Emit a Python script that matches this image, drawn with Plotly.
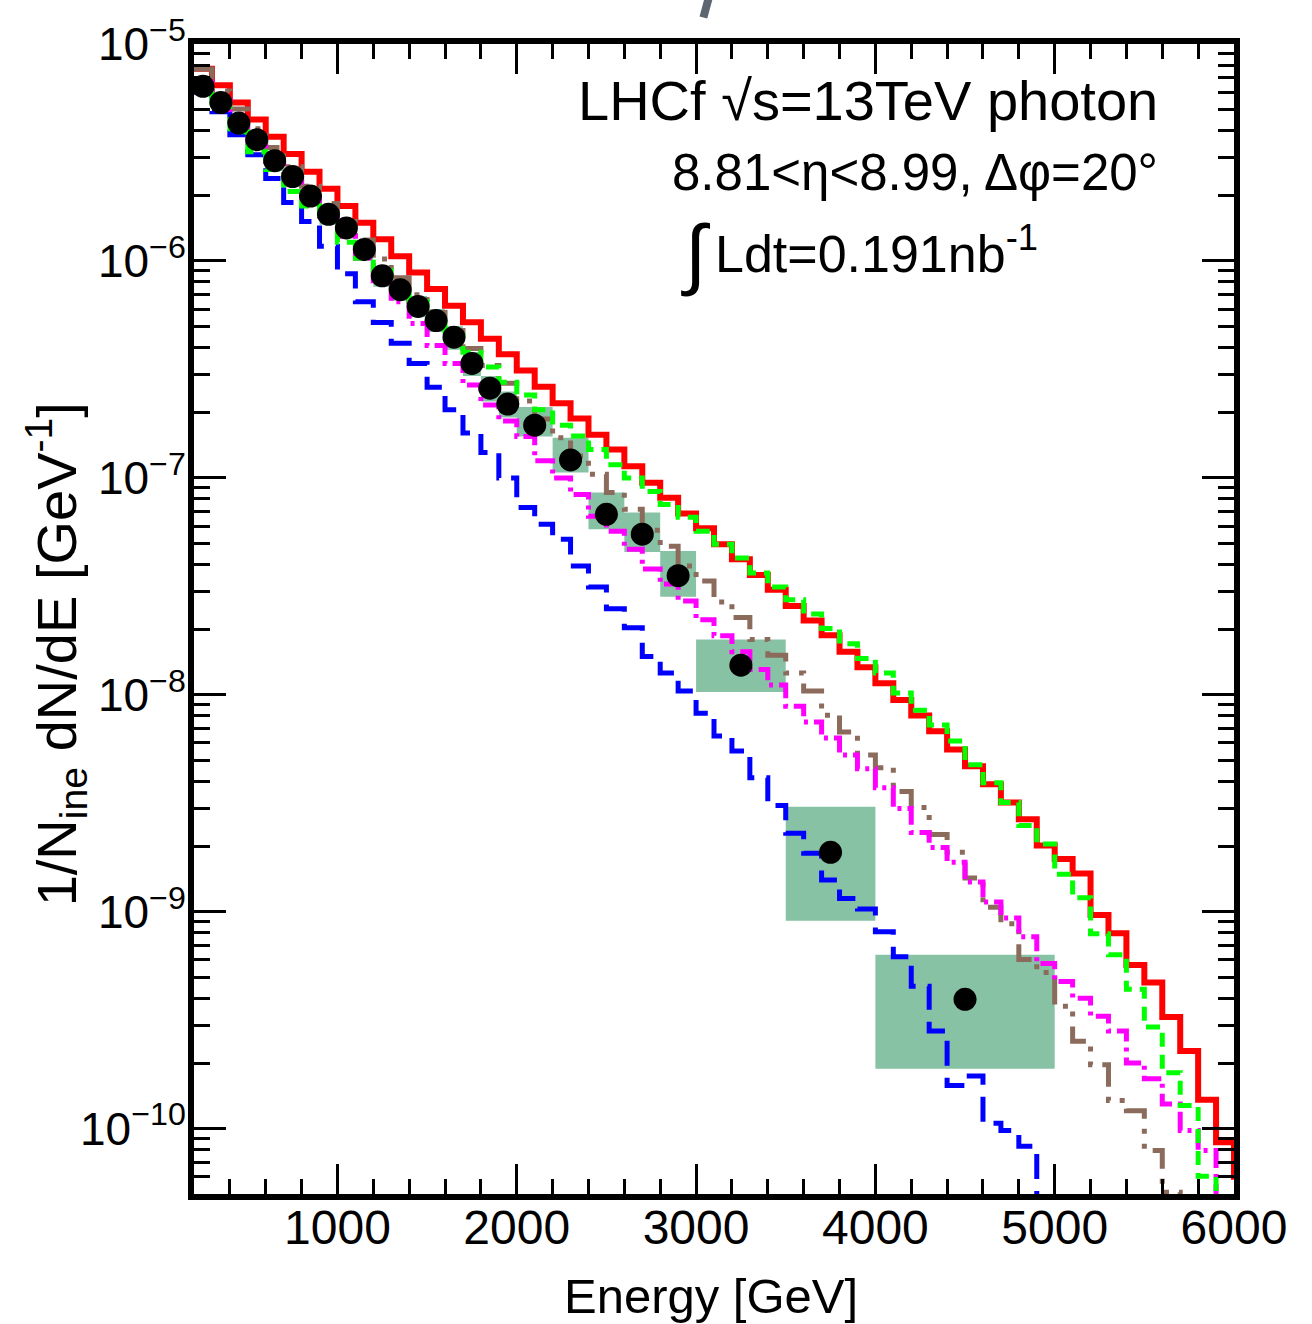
import plotly.graph_objects as go

# ---------------- data ----------------
bin_width = 100
bin_edges = list(range(200, 6100, 100))  # lower edges 200 ... 6000

# Model predictions (per 100 GeV bin, starting at 200 GeV)
red_vals = [7.68e-6, 6.45e-6, 5.37e-6, 4.49e-6, 3.74e-6, 3.11e-6, 2.58e-6, 2.15e-6, 1.79e-6, 1.50e-6,
            1.26e-6, 1.05e-6, 8.84e-7, 7.42e-7, 6.22e-7, 5.22e-7, 4.38e-7, 3.71e-7, 3.13e-7, 2.63e-7,
            2.21e-7, 1.88e-7, 1.58e-7, 1.35e-7, 1.13e-7, 9.49e-8, 8.10e-8, 6.86e-8, 5.86e-8, 4.95e-8,
            4.22e-8, 3.57e-8, 3.05e-8, 2.57e-8, 2.20e-8, 1.88e-8, 1.58e-8, 1.34e-8, 1.13e-8, 9.47e-9,
            8.02e-9, 6.79e-9, 5.59e-9, 4.69e-9, 3.87e-9, 3.19e-9, 2.67e-9, 2.02e-9, 1.75e-9, 1.50e-9,
            9.65e-10, 7.95e-10, 5.69e-10, 4.72e-10, 3.27e-10, 2.28e-10, 1.36e-10, 8.65e-11, 6.0e-11]

green_vals = [6.33e-6, 5.13e-6, 3.94e-6, 3.19e-6, 2.64e-6, 2.09e-6, 1.79e-6, 1.52e-6, 1.22e-6, 1.03e-6,
              9.00e-7, 7.52e-7, 6.49e-7, 5.60e-7, 4.53e-7, 3.79e-7, 3.24e-7, 2.76e-7, 2.41e-7, 2.06e-7,
              1.75e-7, 1.56e-7, 1.35e-7, 1.15e-7, 1.00e-7, 8.65e-8, 7.54e-8, 6.58e-8, 5.67e-8, 4.95e-8,
              4.27e-8, 3.64e-8, 3.14e-8, 2.74e-8, 2.36e-8, 2.02e-8, 1.72e-8, 1.47e-8, 1.26e-8, 1.02e-8,
              8.50e-9, 7.25e-9, 6.13e-9, 4.76e-9, 3.93e-9, 3.19e-9, 2.50e-9, 2.05e-9, 1.49e-9, 1.16e-9,
              7.92e-10, 6.34e-10, 4.39e-10, 2.94e-10, 1.81e-10, 1.28e-10, 6.04e-11, 4.0e-11]

brown_vals = [7.66e-6, 6.07e-6, 5.02e-6, 4.07e-6, 3.33e-6, 2.72e-6, 2.21e-6, 1.84e-6, 1.52e-6, 1.25e-6,
              1.02e-6, 8.37e-7, 6.99e-7, 5.78e-7, 4.78e-7, 3.95e-7, 3.30e-7, 2.73e-7, 2.26e-7, 1.87e-7,
              1.53e-7, 1.26e-7, 1.04e-7, 8.56e-8, 7.16e-8, 5.73e-8, 4.84e-8, 3.92e-8, 3.35e-8, 2.68e-8,
              2.27e-8, 1.80e-8, 1.52e-8, 1.26e-8, 1.04e-8, 8.06e-9, 6.74e-9, 5.28e-9, 4.61e-9, 3.58e-9,
              3.02e-9, 2.27e-9, 1.88e-9, 1.43e-9, 1.05e-9, 8.80e-10, 6.02e-10, 5.25e-10, 3.67e-10, 2.53e-10,
              1.97e-10, 1.35e-10, 1.21e-10, 7.94e-11, 5.10e-11, 3.5e-11, 3.0e-11, 2.8e-11]

magenta_vals = [6.68e-6, 5.52e-6, 4.38e-6, 3.51e-6, 2.87e-6, 2.33e-6, 1.96e-6, 1.61e-6, 1.30e-6, 1.03e-6,
                8.11e-7, 6.49e-7, 5.15e-7, 4.08e-7, 3.37e-7, 2.68e-7, 2.17e-7, 1.83e-7, 1.55e-7, 1.20e-7,
                1.00e-7, 8.39e-8, 6.65e-8, 5.67e-8, 4.69e-8, 3.80e-8, 3.24e-8, 2.71e-8, 2.22e-8, 1.87e-8,
                1.58e-8, 1.31e-8, 1.11e-8, 8.86e-9, 7.49e-9, 6.32e-9, 5.28e-9, 4.56e-9, 3.73e-9, 2.99e-9,
                2.32e-9, 1.98e-9, 1.69e-9, 1.37e-9, 1.11e-9, 9.37e-10, 7.67e-10, 5.77e-10, 4.77e-10, 3.99e-10,
                3.30e-10, 2.82e-10, 2.01e-10, 1.70e-10, 1.30e-10, 9.81e-11, 7.94e-11, 4.0e-11]

blue_vals = [6.01e-6, 4.87e-6, 3.82e-6, 3.09e-6, 2.40e-6, 1.86e-6, 1.52e-6, 1.17e-6, 8.72e-7, 6.49e-7,
             5.20e-7, 4.17e-7, 3.37e-7, 2.62e-7, 2.06e-7, 1.61e-7, 1.31e-7, 1.00e-7, 7.31e-8, 6.11e-8,
             5.22e-8, 3.92e-8, 3.14e-8, 2.49e-8, 2.04e-8, 1.50e-8, 1.26e-8, 1.04e-8, 8.23e-9, 6.46e-9,
             5.51e-9, 4.15e-9, 3.09e-9, 2.30e-9, 1.86e-9, 1.40e-9, 1.15e-9, 1.03e-9, 8.09e-10, 6.21e-10,
             4.53e-10, 2.82e-10, 1.58e-10, 1.75e-10, 1.06e-10, 9.81e-11, 8.29e-11, 3.5e-11]

# LHCf data points
data_E = [250, 350, 450, 550, 650, 750, 850, 950, 1050, 1150, 1250, 1350, 1450, 1550, 1650, 1750,
          1850, 1950, 2100, 2300, 2500, 2700, 2900, 3250, 3750, 4500]
data_bin_lo = [200, 300, 400, 500, 600, 700, 800, 900, 1000, 1100, 1200, 1300, 1400, 1500, 1600, 1700,
               1800, 1900, 2000, 2200, 2400, 2600, 2800, 3000, 3500, 4000]
data_bin_hi = [300, 400, 500, 600, 700, 800, 900, 1000, 1100, 1200, 1300, 1400, 1500, 1600, 1700, 1800,
               1900, 2000, 2200, 2400, 2600, 2800, 3000, 3500, 4000, 5000]
data_val = [6.38e-6, 5.37e-6, 4.32e-6, 3.62e-6, 2.90e-6, 2.45e-6, 1.99e-6, 1.64e-6, 1.42e-6, 1.13e-6,
            8.54e-7, 7.37e-7, 6.17e-7, 5.31e-7, 4.45e-7, 3.37e-7, 2.59e-7, 2.19e-7, 1.75e-7, 1.21e-7,
            6.79e-8, 5.50e-8, 3.54e-8, 1.37e-8, 1.88e-9, 3.95e-10]
box_hi = [7.0e-6, 5.9e-6, 4.75e-6, 4.0e-6, 3.2e-6, 2.7e-6, 2.2e-6, 1.81e-6, 1.57e-6, 1.25e-6,
          9.5e-7, 8.2e-7, 6.9e-7, 6.0e-7, 5.0e-7, 3.8e-7, 2.95e-7, 2.5e-7, 2.12e-7, 1.53e-7,
          8.56e-8, 6.93e-8, 4.60e-8, 1.80e-8, 3.05e-9, 6.34e-10]
box_lo = [5.8e-6, 4.85e-6, 3.9e-6, 3.25e-6, 2.6e-6, 2.2e-6, 1.78e-6, 1.47e-6, 1.27e-6, 1.01e-6,
          7.6e-7, 6.55e-7, 5.5e-7, 4.7e-7, 3.9e-7, 2.95e-7, 2.25e-7, 1.9e-7, 1.55e-7, 1.06e-7,
          5.79e-8, 4.55e-8, 2.83e-8, 1.03e-8, 9.08e-10, 1.89e-10]

x_ticks = [1000, 2000, 3000, 4000, 5000, 6000]
x_ticktext = ["1000", "2000", "3000", "4000", "5000", "6000"]
y_ticks = [1e-10, 1e-9, 1e-8, 1e-7, 1e-6, 1e-5]
y_ticktext = ["10<sup>\u221210</sup>", "10<sup>\u22129</sup>", "10<sup>\u22128</sup>",
              "10<sup>\u22127</sup>", "10<sup>\u22126</sup>", "10<sup>\u22125</sup>"]

FONT = "Liberation Sans, Arial, Helvetica, sans-serif"

# ---------------- figure ----------------
fig = go.Figure()

# systematic boxes
bx, by = [], []
for lo, hi, ylo, yhi in zip(data_bin_lo, data_bin_hi, box_lo, box_hi):
    bx += [lo, hi, hi, lo, lo, None]
    by += [ylo, ylo, yhi, yhi, ylo, None]
fig.add_trace(go.Scatter(x=bx, y=by, mode="lines", fill="toself", fillcolor="#88C2A5",
                         line=dict(width=0, color="#88C2A5"), hoverinfo="skip", showlegend=False))


def step_trace(vals, color, width, dash):
    xs = bin_edges[:len(vals)] + [bin_edges[len(vals) - 1] + bin_width]
    ys = list(vals) + [vals[-1]]
    return go.Scatter(x=xs, y=ys, mode="lines", line=dict(color=color, width=width, dash=dash, shape="hv"),
                      hoverinfo="skip", showlegend=False)


fig.add_trace(step_trace(red_vals, "#FF0000", 6, "solid"))
fig.add_trace(step_trace(blue_vals, "#0000FF", 5, "25px,12px"))
fig.add_trace(step_trace(brown_vals, "#8B6B5C", 5, "28px,10px,5px,10px,5px,10px"))
fig.add_trace(step_trace(magenta_vals, "#FF00FF", 5, "20px,6px,4px,6px"))
fig.add_trace(step_trace(green_vals, "#00FF00", 5, "14px,8px"))

fig.add_trace(go.Scatter(x=data_E, y=data_val, mode="markers",
                         marker=dict(size=23, color="black"), hoverinfo="skip", showlegend=False))

y_minor = [k * 10.0 ** e for e in range(-11, -5) for k in range(2, 10) if 5e-11 <= k * 10.0 ** e <= 1e-5]

axis_common = dict(showline=True, linewidth=6, linecolor="black", mirror="ticks",
                   ticks="inside", tickwidth=3, tickcolor="black", showgrid=False, zeroline=False,
                   ticklabeloverflow="allow")

fig.update_xaxes(range=[200, 6000], tickmode="array", tickvals=x_ticks, ticktext=x_ticktext,
                 ticklen=30, ticklabelstandoff=-14,
                 tickfont=dict(family=FONT, size=48, color="black"),
                 minor=dict(tickmode="linear", tick0=0, dtick=200, ticks="inside", ticklen=15,
                            tickwidth=3, tickcolor="black", showgrid=False),
                 **axis_common)
fig.update_yaxes(type="log", range=[-10.30103, -5], tickmode="array", tickvals=y_ticks, ticktext=y_ticktext,
                 ticklen=32, ticklabelstandoff=-7,
                 tickfont=dict(family=FONT, size=46, color="black"),
                 minor=dict(tickmode="array", tickvals=y_minor, ticks="inside", ticklen=16,
                            tickwidth=3, tickcolor="black", showgrid=False),
                 **axis_common)

annots = [
    dict(text="LHCf \u221As=13TeV photon", x=0.9287, y=0.951, xanchor="right", yanchor="middle",
         font=dict(size=56)),
    dict(text="8.81<\u03b7<8.99, \u0394\u03c6=20\u00b0", x=0.9287, y=0.888, xanchor="right",
         yanchor="middle", font=dict(size=51)),
    dict(text="Ldt=0.191nb<sup>-1</sup>", x=0.4991, y=0.821, xanchor="left", yanchor="middle",
         font=dict(size=52)),
    dict(text="\u222B", x=0.4825, y=0.818, xanchor="center", yanchor="middle", font=dict(size=78)),
    dict(text="Energy [GeV]", x=0.497, y=-0.089, xanchor="center", yanchor="middle", font=dict(size=49)),
    dict(text="1/N<sub>ine</sub> dN/dE [GeV<sup>-1</sup>]", x=-0.133, y=0.469, xanchor="center",
         yanchor="middle", textangle=-90, font=dict(size=56)),
]
for a in annots:
    a.update(xref="paper", yref="paper", showarrow=False)
    a["font"].update(family=FONT, color="black")
    fig.add_annotation(**a)

fig.add_shape(type="line", xref="paper", yref="paper", x0=0.4955, y0=1.042, x1=0.4898, y1=1.023,
              line=dict(color="#5d6670", width=8))

fig.update_layout(width=1312, height=1324, margin=dict(l=194, r=78, t=37, b=130),
                  paper_bgcolor="white", plot_bgcolor="white", showlegend=False,
                  font=dict(family=FONT, color="black"))

# remove the default 8px page margin so the figure sits at the window's top-left corner
fig.write_html("out.html", config={"displayModeBar": False},
               post_script="document.body.style.margin='0px';")
